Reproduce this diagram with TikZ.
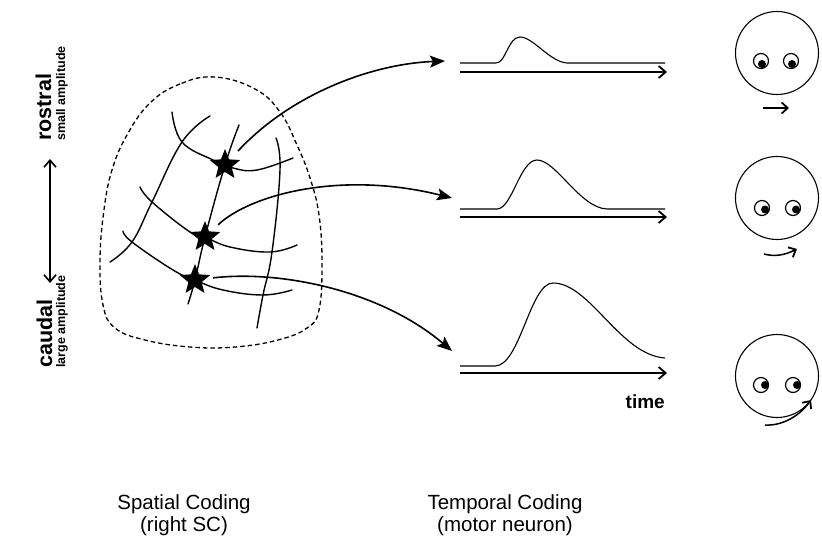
\documentclass[tikz,border=0pt]{standalone}
\usepackage{fontspec}
\setmainfont{Liberation Sans}
\usetikzlibrary{arrows.meta,shapes.geometric}
\begin{document}
\begin{tikzpicture}[x=1pt,y=-1pt,
  fiber/.style={line width=1.4pt, line cap=round},
  outline/.style={line width=1.3pt, dash pattern=on 4.5pt off 3pt},
  proj/.style={line width=1.6pt, -{Stealth[length=15pt,width=12pt,inset=3pt]}},
  starmark/.style={star, star points=5, star point ratio=2.3, fill=black, minimum size=32pt, inner sep=0pt},
  signal/.style={line width=1.1pt},
  timeaxis/.style={line width=1.6pt, -{Straight Barb[length=7pt,width=12pt,line width=1.8pt]}},
  head/.style={circle, draw, line width=1.1pt, minimum size=83pt, inner sep=0pt},
  eye/.style={circle, draw, line width=1.2pt, minimum size=15pt, inner sep=0pt},
  pupil/.style={circle, fill=black, minimum size=8pt, inner sep=0pt},
  gazearrow/.style={line width=1.5pt, -{Straight Barb[length=6pt,width=11pt,line width=1.8pt]}},
  caption/.style={font=\fontsize{20.5}{22}\selectfont, align=center, inner sep=0pt},
  sidelabel/.style={rotate=90, anchor=base west, inner sep=0pt},
  barb/.tip={Straight Barb[length=7pt,width=12pt,line width=1.6pt]},
]
\useasboundingbox (0,0) rectangle (822,537);

% ---- superior colliculus map ----
\draw[outline] plot[smooth cycle, tension=0.7] coordinates {
  (215,77) (180,84) (150,103) (127,135) (112,170) (104,210) (100,260)
  (103,305) (115,328) (145,340) (190,347) (235,347) (278,340) (307,328)
  (319,310) (322,263) (319,215) (310,178) (297,145) (280,112) (255,89)};

% iso-amplitude lines
\draw[fiber] plot[smooth, tension=0.7] coordinates {(172,112) (182,142) (213,160) (233,168) (257,170) (293,158)};
\draw[fiber] plot[smooth, tension=0.7] coordinates {(140,187) (152,202) (190,232) (205,237) (230,247) (270,252) (297,245)};
\draw[fiber] plot[smooth, tension=0.7] coordinates {(123,231) (132,242) (173,270) (195,280) (223,290) (263,295) (292,290)};
% iso-direction lines
\draw[fiber] plot[smooth, tension=0.7] coordinates {(210,116) (182,142) (152,202) (132,242) (110,262)};
\draw[fiber] plot[smooth, tension=0.7] coordinates {(239,125) (225,165) (205,237) (195,280) (188,304)};
\draw[fiber] plot[smooth, tension=0.7] coordinates {(276,138) (280,170) (272,252) (263,295) (257,328)};

% stimulation sites
\node[starmark] (s1) at (225,165) {};
\node[starmark] (s2) at (205,237) {};
\node[starmark] (s3) at (195,280) {};

% ---- projections to motor neurons ----
\coordinate (t1) at (445,61);
\coordinate (t2) at (452,198);
\coordinate (t3) at (452,351);
\draw[proj, shorten <=19pt] (s1.center) .. controls (290,95) and (370,64) .. (t1);
\draw[proj, shorten <=18pt] (s2.center) .. controls (250,195) and (340,170) .. (t2);
\draw[proj, shorten <=18pt] (s3.center) .. controls (280,270) and (380,290) .. (t3);

% ---- firing profiles ----
\draw[signal] (460,63) -- (496,63) .. controls (506,63) and (508,37) .. (520,37)
  .. controls (533,37) and (550,62) .. (567,63) -- (665,63);
\draw[timeaxis] (460,72) -- (667,72);

\draw[signal] (460,209) -- (497,209) .. controls (512,209) and (520,160) .. (537,160)
  .. controls (556,160) and (580,208) .. (607,209) -- (665,209);
\draw[timeaxis] (460,217) -- (667,217);

\draw[signal] (460,366) -- (495,366) .. controls (520,366) and (530,283) .. (553,283)
  .. controls (590,283) and (620,355) .. (665,358);
\draw[timeaxis] (460,373) -- (667,373);
\node[anchor=base east, font=\bfseries\fontsize{19}{19}\selectfont, inner sep=0pt] (time) at (665,408) {time};

% ---- resulting eye movements ----
\node[head] (f1) at (777,53) {};
\node[eye] (e1l) at (761,61) {}; \node[eye] (e1r) at (791,61) {};
\node[pupil] at ([shift={(1,3)}]e1l.center) {}; \node[pupil] at ([shift={(1,3)}]e1r.center) {};
\coordinate (g1a) at (763,108); \coordinate (g1b) at (789,108);
\draw[gazearrow] (g1a) -- (g1b);

\node[head] (f2) at (777,198) {};
\node[eye] (e2l) at (762,208) {}; \node[eye] (e2r) at (793,208) {};
\node[pupil] at ([shift={(3,1.5)}]e2l.center) {}; \node[pupil] at ([shift={(3,1.5)}]e2r.center) {};
\coordinate (g2a) at (764,254); \coordinate (g2b) at (797,249);
\draw[gazearrow] (g2a) .. controls (775,257) and (785,255) .. (g2b);

\node[head] (f3) at (777,376) {};
\node[eye] (e3l) at (761,385) {}; \node[eye] (e3r) at (793,385) {};
\node[pupil] at ([shift={(4,0)}]e3l.center) {}; \node[pupil] at ([shift={(4,0)}]e3r.center) {};
\coordinate (g3a) at (765,425); \coordinate (g3b) at (811,400);
\draw[gazearrow] (g3a) .. controls (780,426) and (798,418) .. (g3b);

% ---- rostro-caudal axis ----
\node[sidelabel, font=\bfseries\fontsize{21.5}{21.5}\selectfont] (rostral) at (51,141) {rostral};
\node[sidelabel, font=\bfseries\fontsize{12.5}{12.5}\selectfont] (small) at (65,141) {small amplitude};
\node[sidelabel, font=\bfseries\fontsize{21.5}{21.5}\selectfont] (caudal) at (52,368) {caudal};
\node[sidelabel, font=\bfseries\fontsize{12.5}{12.5}\selectfont] (large) at (65,368) {large amplitude};
\coordinate (rc1) at (50,159); \coordinate (rc2) at (50,283);
\draw[line width=1.1pt, {barb}-{barb}] (rc1) -- (rc2);

% ---- captions ----
\node[caption, anchor=base] (spatial) at (184,531) {Spatial Coding\\(right SC)};
\node[caption, anchor=base] (temporal) at (505,531) {Temporal Coding\\(motor neuron)};
\end{tikzpicture}
\end{document}
